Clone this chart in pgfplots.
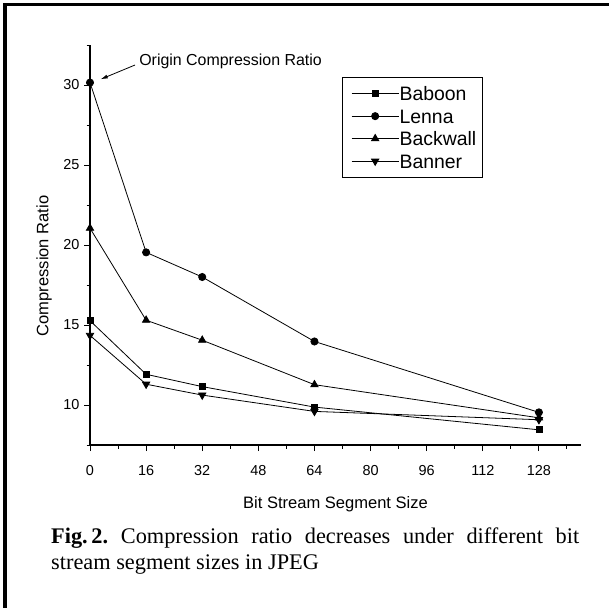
\documentclass[border=0pt]{standalone}
\usepackage{fontspec}
\setmainfont{Liberation Sans}
\newfontfamily\capfont{Liberation Serif}
\usepackage{pgfplots}
\pgfplotsset{compat=1.18}
\usetikzlibrary{arrows.meta}

\begin{document}
\begin{tikzpicture}
\useasboundingbox (0bp,0bp) rectangle (609bp,-608bp);
% page frame (left and top only)
\draw[line width=4bp] (5bp,-608bp) -- (5bp,-3bp);
\draw[line width=2.5bp] (3bp,-4.5bp) -- (609bp,-4.5bp);

\begin{axis}[at={(90bp,-445bp)}, anchor=south west, scale only axis,
  width=491bp, height=400bp,
  xmin=0, xmax=140, ymin=7.5, ymax=32.5,
  axis lines*=left, axis line style={line width=1.1bp},
  tick align=outside, major tick length=6bp, minor tick length=3.5bp,
  every tick/.style={black, line width=1bp},
  xtick={0,16,...,128}, minor xtick={8,24,...,136},
  ytick={10,15,...,30}, minor ytick={7.5,12.5,...,32.5},
  tick label style={font=\fontsize{14.5}{16}\selectfont},
  /pgf/number format/assume math mode=true,
  xticklabel style={yshift=-11bp},
  yticklabel style={xshift=-1bp},
  xlabel={Bit Stream Segment Size},
  ylabel={Compression Ratio},
  xlabel style={font=\fontsize{16.6}{19}\selectfont, at={(axis description cs:0.5,-0.147)}, anchor=center},
  ylabel style={font=\fontsize{16.6}{19}\selectfont, at={(axis description cs:-0.0937,0.4475)}, anchor=center},
  legend style={at={(axis description cs:0.513,0.92)}, anchor=north west,
    draw=black, line width=0.8bp, inner xsep=6bp, inner ysep=5bp,
    font=\fontsize{19.5}{22}\selectfont,
    nodes={inner ysep=1.75bp, inner xsep=0.5bp, text height=16.5bp, text depth=2.5bp}},
  legend cell align=left,
  legend image code/.code={\path (-3bp,0bp); \draw[mark repeat=2,mark phase=2,#1] plot coordinates {(0bp,0bp) (23.5bp,0bp) (47bp,0bp)};},
  every axis plot/.append style={black, line width=0.8bp, mark options={solid}},
]
\addplot[mark=square*, mark size=3bp] coordinates {
  (0,15.27) (16,11.92) (32,11.15) (64,9.87) (128,8.45)
};
\addlegendentry{Baboon}
\addplot[mark=*, mark size=3.6bp] coordinates {
  (0,30.15) (16,19.54) (32,18.0) (64,13.97) (128,9.54)
};
\addlegendentry{Lenna}
\addplot[mark=triangle*, mark size=4.2bp] coordinates {
  (0,21.05) (16,15.3) (32,14.05) (64,11.27) (128,9.2)
};
\addlegendentry{Backwall}
\addplot[mark=triangle*, mark size=4.2bp, mark options={rotate=180}] coordinates {
  (0,14.35) (16,11.3) (32,10.62) (64,9.6) (128,9.08)
};
\addlegendentry{Banner}
\node[anchor=west, inner sep=0pt, font=\fontsize{16}{18}\selectfont] at (axis cs:14,31.46) {Origin Compression Ratio};
\draw[-{Latex[length=7bp,width=4bp]}, line width=0.8bp] (axis cs:12.84,31.25) -- (axis cs:3.05,30.36);
\end{axis}

\node[anchor=north west, inner sep=0pt, text width=528bp, align=justify,
  font={\capfont\fontsize{22.4}{26}\selectfont\tolerance=10000\hyphenpenalty=10000}]
  at (51bp,-527.7bp) {\textbf{Fig.\,2.}\ Compression ratio decreases under different bit stream segment sizes in JPEG};
\end{tikzpicture}
\end{document}
